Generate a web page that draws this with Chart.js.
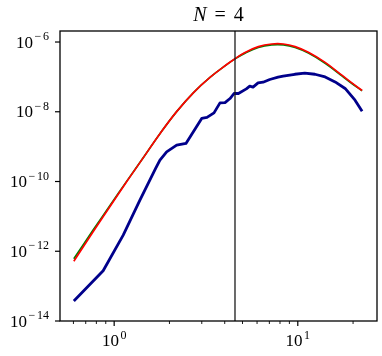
<!DOCTYPE html>
<html><head><meta charset="utf-8">
<script src="https://cdn.jsdelivr.net/npm/chart.js@4/dist/chart.umd.min.js"></script>
<style>html,body{margin:0;padding:0;background:#fff}canvas{display:block}</style>
</head><body>
<canvas id="c" width="382" height="356"></canvas>
<script>
// ---- data ----
const titleVar = 'N';
const titleRest = '= 4';
const smoothX = [0.603, 0.768, 0.947, 1.169, 1.411, 1.775, 2.189, 2.697, 3.325, 4.10, 4.55, 5.16, 6.10, 7.21, 8.35, 9.67, 11.42, 14.09, 17.38, 19.70, 22.4];
const redY   = [5.14e-13, 3.62e-12, 1.88e-11, 9.8e-11, 4.10e-10, 2.35e-9, 1.01e-8, 3.50e-8, 9.68e-8, 2.26e-7, 3.32e-7, 5.0e-7, 7.38e-7, 8.77e-7, 8.77e-7, 7.38e-7, 5.07e-7, 2.60e-7, 1.12e-7, 6.73e-8, 4.07e-8];
const greenY = [6.07e-13, 4.05e-12, 2.01e-11, 1.01e-10, 4.14e-10, 2.35e-9, 1.01e-8, 3.50e-8, 9.68e-8, 2.25e-7, 3.28e-7, 4.8e-7, 7.0e-7, 8.3e-7, 8.3e-7, 7.0e-7, 4.82e-7, 2.47e-7, 1.07e-7, 6.45e-8, 3.99e-8];
const blueX = [0.603, 0.871, 1.12, 1.381, 1.682, 1.775, 1.931, 2.189, 2.46, 2.997, 3.203, 3.497, 3.77, 4.015, 4.275, 4.495, 4.75, 5.245, 5.475, 5.705, 6.075, 6.47, 7.036, 7.81, 8.32, 9.63, 10.92, 12.39, 14.09, 15.97, 18.1, 20.5, 22.4];
const blueY = [3.74e-14, 2.76e-13, 2.91e-12, 2.93e-11, 2.37e-10, 4.1e-10, 7.1e-10, 1.10e-9, 1.24e-9, 6.43e-9, 6.87e-9, 9.3e-9, 1.80e-8, 1.82e-8, 2.40e-8, 3.34e-8, 3.34e-8, 4.53e-8, 5.42e-8, 5.07e-8, 6.73e-8, 7.05e-8, 8.43e-8, 9.8e-8, 1.05e-7, 1.19e-7, 1.28e-7, 1.19e-7, 1.0e-7, 7.19e-8, 4.66e-8, 2.15e-8, 1.04e-8];
const markerX = 4.55;
const xMajorTicks = [1, 10];
const xMajorExp = ['0', '1'];
const xMinorTicks = [0.6, 0.7, 0.8, 0.9, 2, 3, 4, 5, 6, 7, 8, 9, 20];
const yMajorTicks = [1e-6, 1e-8, 1e-10, 1e-12, 1e-14];
const yMajorExp = ['\u22126', '\u22128', '\u221210', '\u221212', '\u221214'];
const xRange = [0.507, 27];
const yRange = [1e-14, 2.07e-6];

const FONT = '"Liberation Serif", "DejaVu Serif", serif';
const BASE_PX = 17;
const EXP_PX = 12;

function drawPow(ctx, exp, x, baseY, align) {
  ctx.textAlign = 'left';
  ctx.textBaseline = 'alphabetic';
  ctx.font = BASE_PX + 'px ' + FONT;
  const wb = ctx.measureText('10').width;
  ctx.font = EXP_PX + 'px ' + FONT;
  const parts = exp[0] === '\u2212' ? ['\u2212', exp.slice(1)] : [exp];
  const ws = parts.map(p => ctx.measureText(p).width);
  const gap = 1.5;
  const inner = 1.8;
  const we = ws.reduce((a, b) => a + b, 0) + (parts.length - 1) * inner;
  const total = wb + gap + we;
  const x0 = align === 'right' ? x - total : x - total / 2;
  ctx.font = BASE_PX + 'px ' + FONT;
  ctx.fillText('10', x0, baseY);
  ctx.font = EXP_PX + 'px ' + FONT;
  let xe = x0 + wb + gap;
  parts.forEach((p, i) => { ctx.fillText(p, xe, baseY - 7.5); xe += ws[i] + inner; });
}

const decor = {
  id: 'decor',
  afterDatasetsDraw(chart) {
    const { ctx, chartArea: a, scales: { x, y } } = chart;
    ctx.save();
    const vx = x.getPixelForValue(markerX);
    ctx.strokeStyle = '#1a1a1a';
    ctx.lineWidth = 1.3;
    ctx.beginPath(); ctx.moveTo(vx, a.top); ctx.lineTo(vx, a.bottom); ctx.stroke();
    ctx.strokeStyle = '#000';
    ctx.lineWidth = 1.3;
    ctx.strokeRect(a.left, a.top, a.right - a.left, a.bottom - a.top);
    ctx.fillStyle = '#000';
    ctx.lineWidth = 1.2;
    xMajorTicks.forEach((v, i) => {
      const px = x.getPixelForValue(v);
      ctx.beginPath(); ctx.moveTo(px, a.bottom); ctx.lineTo(px, a.bottom + 5); ctx.stroke();
      drawPow(ctx, xMajorExp[i], px, a.bottom + 25, 'center');
    });
    ctx.lineWidth = 0.9;
    xMinorTicks.forEach(v => {
      const px = x.getPixelForValue(v);
      ctx.beginPath(); ctx.moveTo(px, a.bottom); ctx.lineTo(px, a.bottom + 3); ctx.stroke();
    });
    ctx.lineWidth = 1.2;
    yMajorTicks.forEach((v, i) => {
      const py = y.getPixelForValue(v);
      ctx.beginPath(); ctx.moveTo(a.left, py); ctx.lineTo(a.left - 5, py); ctx.stroke();
      drawPow(ctx, yMajorExp[i], a.left - 11, py + 5.5, 'right');
    });
    // title
    const cx = (a.left + a.right) / 2;
    ctx.textBaseline = 'alphabetic';
    ctx.textAlign = 'left';
    ctx.font = 'italic 20px ' + FONT;
    const wN = ctx.measureText(titleVar).width;
    ctx.font = '20px ' + FONT;
    const rest = titleRest.split(' ');
    const wEq = ctx.measureText(rest[0]).width;
    const w4 = ctx.measureText(rest[1]).width;
    const sp = 8;
    const total = wN + sp + wEq + sp + w4;
    let tx = cx - total / 2;
    ctx.font = 'italic 20px ' + FONT;
    ctx.fillText(titleVar, tx, 21);
    tx += wN + sp;
    ctx.font = '20px ' + FONT;
    ctx.fillText(rest[0], tx, 21);
    tx += wEq + sp;
    ctx.fillText(rest[1], tx, 21);
    ctx.restore();
  }
};

const toPts = (xs, ys) => xs.map((v, i) => ({ x: v, y: ys[i] }));

new Chart(document.getElementById('c'), {
  type: 'scatter',
  data: {
    datasets: [
      { label: 'red', data: toPts(smoothX, redY), showLine: true, borderColor: '#ff0000', borderWidth: 1.7, pointRadius: 0, tension: 0.4, fill: false },
      { label: 'green', data: toPts(smoothX, greenY), showLine: true, borderColor: '#008000', borderWidth: 1.7, pointRadius: 0, tension: 0.4, fill: false },
      { label: 'blue', data: toPts(blueX, blueY), showLine: true, borderColor: '#00008b', borderWidth: 2.8, pointRadius: 0, tension: 0, fill: false, borderJoinStyle: 'round' }
    ]
  },
  options: {
    responsive: false,
    animation: false,
    devicePixelRatio: 1,
    layout: { padding: { top: 31, right: 5, left: 0, bottom: 0 } },
    plugins: { legend: { display: false }, title: { display: false }, tooltip: { enabled: false } },
    scales: {
      x: {
        type: 'logarithmic', min: xRange[0], max: xRange[1], bounds: 'data',
        grid: { display: false }, border: { display: false }, ticks: { display: false },
        afterFit: s => { s.height = 35; }
      },
      y: {
        type: 'logarithmic', min: yRange[0], max: yRange[1], bounds: 'data',
        grid: { display: false }, border: { display: false }, ticks: { display: false },
        afterFit: s => { s.width = 60; }
      }
    }
  },
  plugins: [decor]
});
</script>
</body></html>
